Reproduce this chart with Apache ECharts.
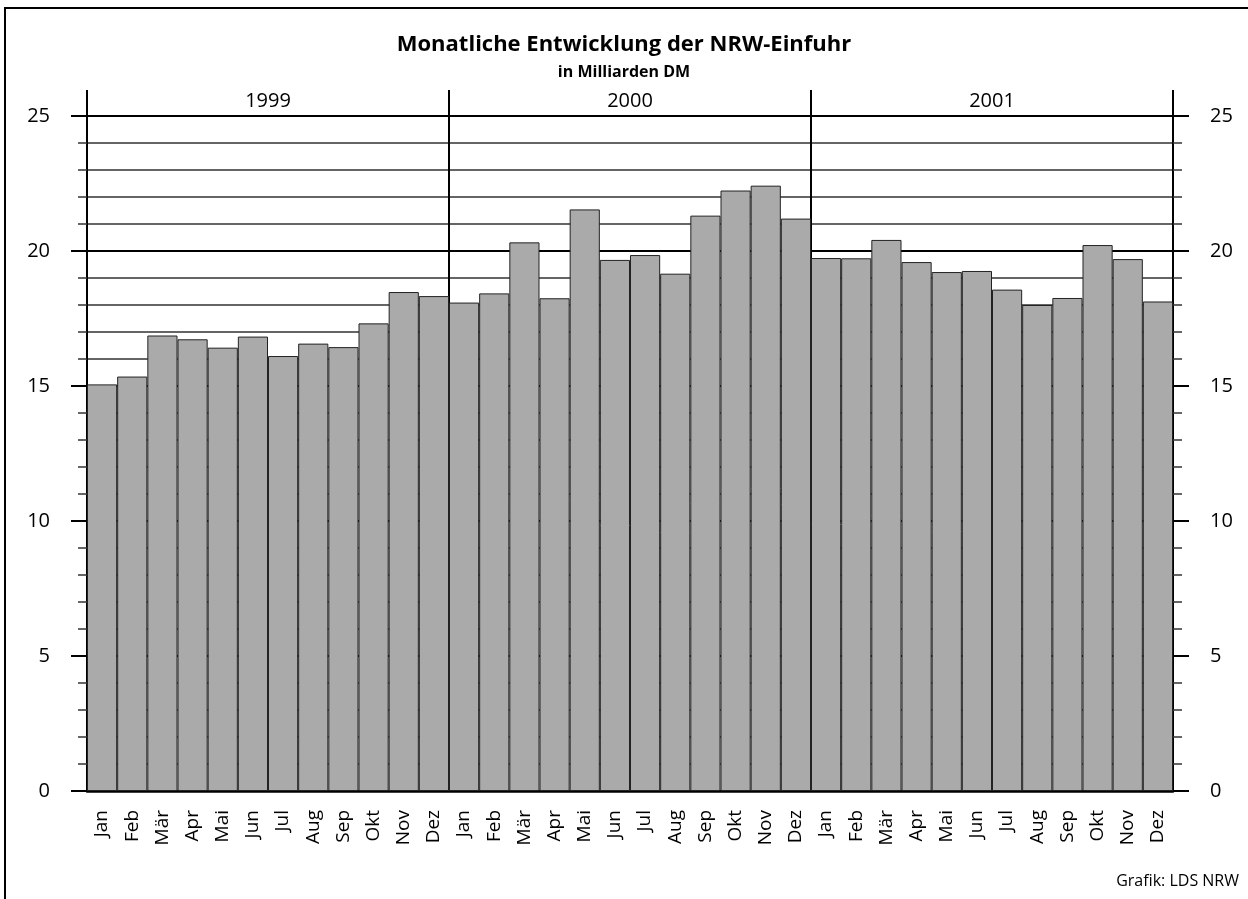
<!DOCTYPE html>
<html>
<head>
<meta charset="utf-8">
<title>Monatliche Entwicklung der NRW-Einfuhr</title>
<script src="https://cdn.jsdelivr.net/npm/echarts@6/dist/echarts.min.js"></script>
<style>
  html, body { margin: 0; padding: 0; background: #fff; }
  #chart { width: 1248px; height: 899px; }
</style>
</head>
<body>
<div id="chart"></div>
<script>
  // Einfuhr NRW in Mrd. DM, Jan 1999 - Dez 2001
  var years = ['1999', '2000', '2001']
  var months = ['Jan', 'Feb', 'Mär', 'Apr', 'Mai', 'Jun', 'Jul', 'Aug', 'Sep', 'Okt', 'Nov', 'Dez']
  var values1999 = [15.06, 15.35, 16.87, 16.73, 16.42, 16.83, 16.11, 16.57, 16.44, 17.32, 18.48, 18.33]
  var values2000 = [18.09, 18.43, 20.32, 18.25, 21.54, 19.67, 19.85, 19.16, 21.31, 22.24, 22.42, 21.20]
  var values2001 = [19.74, 19.73, 20.41, 19.59, 19.22, 19.26, 18.57, 18.00, 18.26, 20.22, 19.70, 18.13]

  var categories = []
  years.forEach(function () {
    categories = categories.concat(months)
  })
  var values = values1999.concat(values2000, values2001)

  var font = '"Open Sans", "DejaVu Sans", sans-serif'

  function valueAxis (position, withGrid) {
    return {
      type: 'value',
      position: position,
      min: 0,
      max: 25,
      interval: 5,
      axisLine: { show: true, lineStyle: { color: '#000', width: 2 } },
      axisTick: { show: true, inside: false, length: 16, lineStyle: { color: '#000', width: 2 } },
      minorTick: { show: true, splitNumber: 5, length: 9, lineStyle: { color: '#333', width: 1.5 } },
      axisLabel: { color: '#000', fontSize: 20, fontFamily: font, margin: 37 },
      splitLine: { show: withGrid, lineStyle: { color: '#000', width: 2 } },
      minorSplitLine: { show: withGrid, lineStyle: { color: '#333', width: 1.5 } }
    }
  }

  var option = {
    backgroundColor: '#fff',
    animation: false,
    title: {
      text: 'Monatliche Entwicklung der NRW-Einfuhr',
      subtext: 'in Milliarden DM',
      left: 'center',
      top: 29,
      itemGap: 8,
      textStyle: { color: '#000', fontSize: 22, fontWeight: 'bold', fontFamily: font },
      subtextStyle: { color: '#000', fontSize: 16, fontWeight: 'bold', fontFamily: font }
    },
    grid: {
      left: 87,
      right: 75,
      top: 116,
      bottom: 108,
      containLabel: false
    },
    xAxis: [{
      type: 'category',
      data: categories,
      position: 'bottom',
      boundaryGap: true,
      axisLine: { show: true, lineStyle: { color: '#000', width: 2.5 } },
      axisTick: { show: false },
      axisLabel: { color: '#000', fontSize: 19, fontFamily: font, rotate: 90, margin: 19, interval: 0 },
      splitLine: { show: false }
    }, {
      // Jahresbeschriftung oben
      type: 'category',
      data: years,
      position: 'top',
      boundaryGap: true,
      axisLine: { show: false },
      axisTick: { show: false },
      axisLabel: { color: '#000', fontSize: 20, fontFamily: font, margin: 5 },
      splitLine: { show: false }
    }, {
      // Jahrestrenner: Monatsindex 0..36, alle 12 Monate eine Linie
      type: 'value',
      position: 'top',
      min: 0,
      max: categories.length,
      interval: months.length,
      axisLine: { show: false },
      axisTick: { show: true, inside: false, length: 26, lineStyle: { color: '#000', width: 2 } },
      axisLabel: { show: false },
      splitLine: { show: true, lineStyle: { color: '#000', width: 2 } }
    }],
    yAxis: [valueAxis('left', true), valueAxis('right', false)],
    graphic: [{
      type: 'rect',
      shape: { x: 5, y: 8, width: 1300, height: 1000 },
      style: { fill: 'none', stroke: '#000', lineWidth: 2 },
      silent: true
    }, {
      type: 'text',
      right: 9,
      top: 873,
      style: { text: 'Grafik: LDS NRW', fill: '#000', font: '16px ' + font }
    }],
    series: [{
      name: 'Einfuhr',
      type: 'bar',
      xAxisIndex: 0,
      yAxisIndex: 0,
      data: values,
      barCategoryGap: 0,
      itemStyle: { color: '#aaaaaa', borderColor: '#222', borderWidth: 1 }
    }]
  }

  var chart = echarts.init(document.getElementById('chart'))
  chart.setOption(option)
  window.addEventListener('resize', function () {
    chart.resize()
  })
</script>
</body>
</html>
